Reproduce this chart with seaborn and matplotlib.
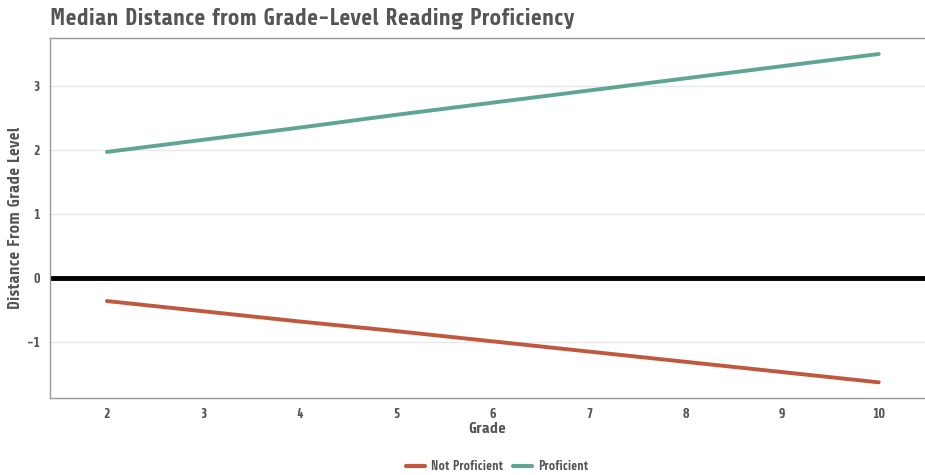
import matplotlib
matplotlib.use("Agg")
import matplotlib.pyplot as plt
import seaborn as sns
import pandas as pd

grades = [2, 3, 4, 5, 6, 7, 8, 9, 10]
proficient = [1.97, 2.16, 2.35, 2.55, 2.74, 2.93, 3.12, 3.31, 3.50]
not_proficient = [-0.36, -0.52, -0.68, -0.83, -0.99, -1.15, -1.31, -1.47, -1.63]
groups = ["Not Proficient", "Proficient"]
colors = {"Not Proficient": "#c0583f", "Proficient": "#5fa595"}

df = pd.DataFrame({
    "Grade": grades * 2,
    "Distance": not_proficient + proficient,
    "Group": [groups[0]] * len(grades) + [groups[1]] * len(grades),
})

sns.set_theme(style="white")
plt.rcParams["font.family"] = ["Share", "DejaVu Sans"]
txt = "#555555"

fig = plt.figure(figsize=(9.25, 4.75), dpi=100)
ax = fig.add_axes([50 / 925, 1 - 398 / 475, 875 / 925, 360 / 475])

ax.axhline(0, color="black", lw=3.5, zorder=1)
sns.lineplot(data=df, x="Grade", y="Distance", hue="Group", palette=colors,
             hue_order=groups, lw=2.8, ax=ax, zorder=3)

ax.set_xlim(1.41, 10.48)
ax.set_ylim(-1.875, 3.75)
ax.set_xticks(grades)
ax.set_yticks([-1, 0, 1, 2, 3])
ax.set_yticklabels(["-1", "0", "1", "2", "3"])
for y in [-1, 1, 2, 3]:
    ax.axhline(y, color="#e8e8e8", lw=1, zorder=0)

for s in ["left", "bottom", "top"]:
    ax.spines[s].set_color("#999999")
    ax.spines[s].set_linewidth(1)
ax.spines["right"].set_visible(False)
ax.tick_params(axis="both", colors="#5fa595", length=4, width=1, labelsize=10,
               labelcolor=txt)
for lab in ax.get_xticklabels() + ax.get_yticklabels():
    lab.set_fontweight("bold")

ax.set_xlabel("Grade", fontsize=11.5, fontweight="bold", color=txt, labelpad=1)
ax.set_ylabel("Distance From Grade Level", fontsize=12, fontweight="bold",
              color=txt, labelpad=3)
fig.text(50 / 925, 1 - 18 / 475, "Median Distance from Grade-Level Reading Proficiency",
         fontsize=16.6, fontweight="bold", color=txt, va="center", ha="left")

leg = ax.legend(loc="center", bbox_to_anchor=(0.5, -0.2), ncol=2, frameon=False,
                fontsize=9, handlelength=1.5, columnspacing=0.8, handletextpad=0.5)
for t in leg.get_texts():
    t.set_color(txt)
    t.set_fontweight("bold")
for h in leg.legend_handles:
    h.set_linewidth(3)
leg.set_bbox_to_anchor((497 / 925, 1 - 466 / 475), transform=fig.transFigure)

fig.savefig("out.png", dpi=100)
